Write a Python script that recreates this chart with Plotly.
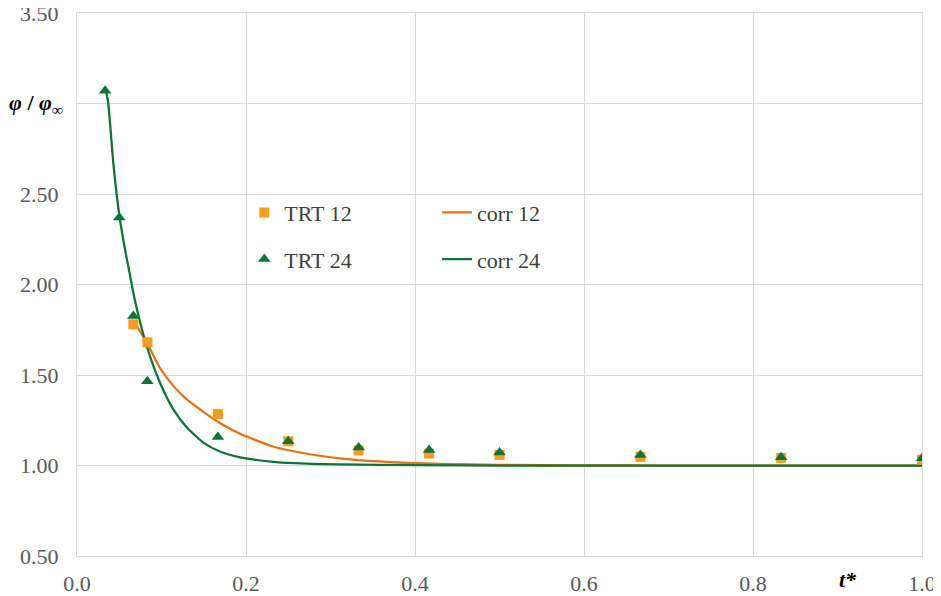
import plotly.graph_objects as go

# ---- data ----
trt12_x = [0.0667, 0.0833, 0.1667, 0.25, 0.3333, 0.4167, 0.5, 0.6667, 0.8333, 1.0]
trt12_y = [1.78, 1.68, 1.284, 1.134, 1.083, 1.066, 1.058, 1.048, 1.042, 1.032]

trt24_x = [0.0333, 0.05, 0.0667, 0.0833, 0.1667, 0.25, 0.3333, 0.4167, 0.5, 0.6667, 0.8333, 1.0]
trt24_y = [3.07, 2.37, 1.826, 1.466, 1.157, 1.134, 1.10, 1.085, 1.072, 1.058, 1.046, 1.04]

corr12_x = [0.0667, 0.0825, 0.098, 0.114, 0.130, 0.150, 0.169, 0.193, 0.232, 0.272, 0.311,
            0.351, 0.390, 0.430, 0.50, 0.60, 0.70, 0.85, 1.0]
corr12_y = [1.80, 1.68, 1.54, 1.44, 1.365, 1.295, 1.235, 1.175, 1.105, 1.065, 1.04,
            1.024, 1.015, 1.009, 1.004, 1.001, 1.0, 1.0, 1.0]

corr24_x = [0.0335, 0.037, 0.043, 0.049, 0.055, 0.0636, 0.0686, 0.0825, 0.098, 0.114, 0.130,
            0.150, 0.169, 0.193, 0.232, 0.272, 0.311, 0.40, 0.50, 0.70, 1.0]
corr24_y = [3.09, 3.00, 2.67, 2.42, 2.24, 2.03, 1.91, 1.66, 1.46, 1.31, 1.21,
            1.125, 1.077, 1.045, 1.02, 1.01, 1.006, 1.002, 1.0, 1.0, 1.0]

x_ticks = [0.0, 0.2, 0.4, 0.6, 0.8, 1.0]
x_ticktext = ["0.0", "0.2", "0.4", "0.6", "0.8", "1.0"]
y_ticks = [0.5, 1.0, 1.5, 2.0, 2.5, 3.0, 3.5]
y_ticktext = ["0.50", "1.00", "1.50", "2.00", "2.50", "", "3.50"]

ORANGE_M = "#FF9A1C"
ORANGE_L = "#E8700F"
GREEN = "#0B7436"
FONT = '"Liberation Serif", "Times New Roman", "DejaVu Serif", serif'

fig = go.Figure()
fig.add_trace(go.Scatter(x=corr12_x, y=corr12_y, mode="lines", name="corr 12",
                         line=dict(color=ORANGE_L, width=2.25, shape="spline", smoothing=0.6),
                         legend="legend2", legendgroup="c12", legendrank=1))
fig.add_trace(go.Scatter(x=corr24_x, y=corr24_y, mode="lines", name="corr 24",
                         line=dict(color=GREEN, width=2.25, shape="spline", smoothing=0.6),
                         legend="legend2", legendgroup="c24", legendrank=2))
fig.add_trace(go.Scatter(x=trt12_x, y=trt12_y, mode="markers", name="TRT 12",
                         marker=dict(symbol="square", size=10, color=ORANGE_M),
                         legend="legend", legendgroup="t12", legendrank=1))
fig.add_trace(go.Scatter(x=trt24_x, y=trt24_y, mode="markers", name="TRT 24",
                         marker=dict(symbol="triangle-up", size=11, color=GREEN),
                         legend="legend", legendgroup="t24", legendrank=2))

axis_common = dict(showgrid=True, gridcolor="#D9D9D9", gridwidth=1,
                   showline=True, linecolor="#D9D9D9", linewidth=1, mirror=True,
                   zeroline=False, ticks="", automargin=False,
                   ticklabeloverflow="allow",
                   tickfont=dict(family=FONT, size=22, color="#595959"))

fig.update_xaxes(range=[0, 1.0], tickvals=x_ticks, ticktext=x_ticktext,
                 ticklabelstandoff=8, **axis_common)
fig.update_yaxes(range=[0.5, 3.5], tickvals=y_ticks, ticktext=y_ticktext,
                 ticklabelstandoff=13, **axis_common)

legend_common = dict(font=dict(family=FONT, size=22, color="#404040"),
                     bgcolor="rgba(0,0,0,0)", orientation="v",
                     tracegroupgap=15, xanchor="left", yanchor="top")
# page body has an 8px margin, so the figure is sized/offset to compensate
fig.update_layout(
    width=925, height=588,
    margin=dict(l=69, r=11, t=5, b=40, autoexpand=False),
    plot_bgcolor="white", paper_bgcolor="white",
    font=dict(family=FONT),
    showlegend=True,
    legend=dict(x=0.198, y=0.671, **legend_common),
    legend2=dict(x=0.4261, y=0.671, **legend_common),
    annotations=[
        dict(text="<b><i>φ</i> / <i>φ</i><sub>∞</sub></b>", xref="paper", yref="y",
             x=-0.001, y=3.0, xanchor="right", yanchor="middle", showarrow=False,
             font=dict(family=FONT, size=22, color="black"),
             bgcolor="white", borderpad=12),
        dict(text="<b><i>t*</i></b>", xref="x", yref="paper",
             x=0.913, y=0, yshift=-23, xanchor="center", yanchor="middle", showarrow=False,
             font=dict(family=FONT, size=22, color="black")),
    ],
)

fig.write_html("out.html")
